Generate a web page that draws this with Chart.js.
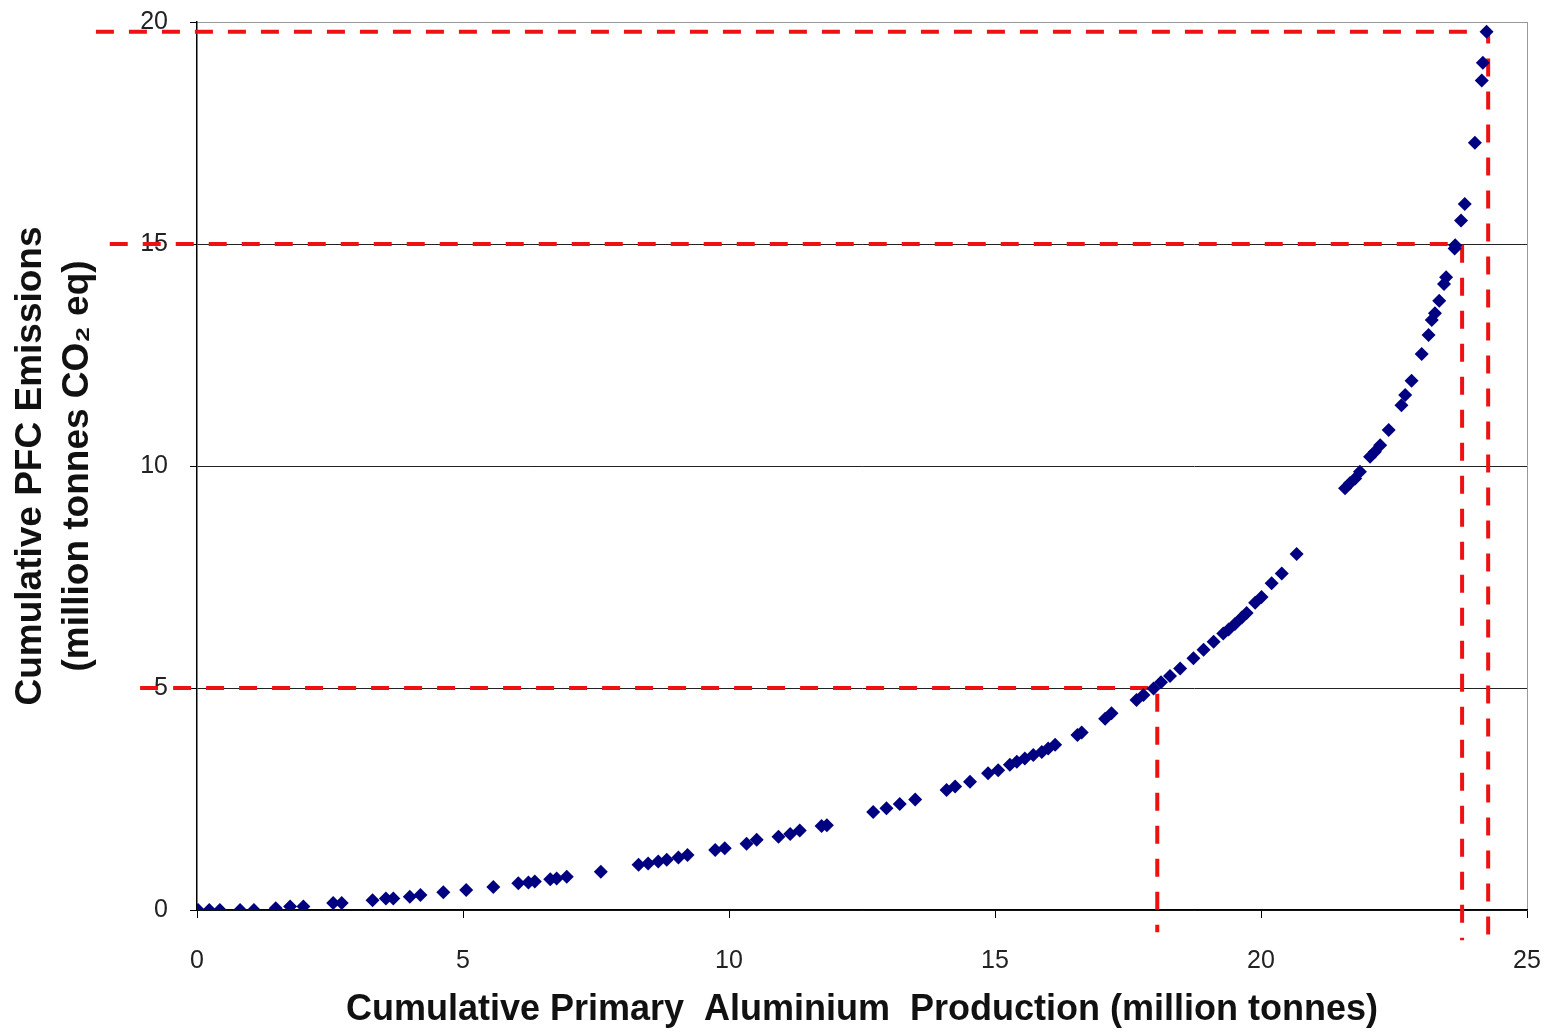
<!DOCTYPE html>
<html>
<head>
<meta charset="utf-8">
<script src="https://cdn.jsdelivr.net/npm/chart.js@4/dist/chart.umd.min.js"></script>
<style>
  html, body { margin: 0; padding: 0; background: #fff; }
  canvas { display: block; }
</style>
</head>
<body>
<canvas id="pfc_chart" width="1552" height="1032"></canvas>
<script>
// cumulative production (million tonnes) and cumulative PFC emissions (Mt CO2 eq)
var production = [0.02, 0.23, 0.43, 0.81, 1.07, 1.48, 1.75, 2.0, 2.56, 2.72,
    3.30, 3.55, 3.69, 4.00, 4.20, 4.63, 5.06, 5.57, 6.04, 6.23,
    6.35, 6.64, 6.76, 6.95, 7.59, 8.30, 8.48, 8.67, 8.83, 9.05,
    9.22, 9.74, 9.92, 10.33, 10.52, 10.93, 11.15, 11.33, 11.74, 11.84,
    12.71, 12.96, 13.21, 13.50, 14.09, 14.25, 14.53, 14.87, 15.06, 15.28,
    15.41, 15.56, 15.72, 15.88, 16.00, 16.13, 16.55, 16.63, 17.07, 17.19,
    17.66, 17.79, 17.98, 18.12, 18.29, 18.48, 18.73, 18.92, 19.11, 19.29,
    19.39, 19.51, 19.64, 19.73, 19.89, 20.01, 20.20, 20.39, 20.67, 21.58,
    21.67, 21.77, 21.86, 22.05, 22.14, 22.24, 22.40, 22.64, 22.71, 22.83,
    23.02, 23.15, 23.21, 23.27, 23.35, 23.44, 23.48, 23.64, 23.65, 23.76,
    23.83, 24.02, 24.15, 24.17, 24.24];
var emissions = [0, 0, 0, 0, 0, 0.04, 0.08, 0.08, 0.16, 0.16,
    0.22, 0.26, 0.26, 0.30, 0.34, 0.40, 0.45, 0.52, 0.60, 0.62,
    0.64, 0.69, 0.71, 0.75, 0.86, 1.02, 1.05, 1.09, 1.13, 1.18,
    1.24, 1.35, 1.39, 1.49, 1.58, 1.65, 1.71, 1.79, 1.89, 1.91,
    2.21, 2.29, 2.39, 2.49, 2.70, 2.78, 2.89, 3.08, 3.15, 3.27,
    3.34, 3.41, 3.49, 3.56, 3.64, 3.72, 3.94, 4.00, 4.31, 4.43,
    4.73, 4.84, 4.99, 5.13, 5.27, 5.44, 5.67, 5.86, 6.04, 6.23,
    6.32, 6.44, 6.59, 6.69, 6.92, 7.05, 7.36, 7.58, 8.02, 9.50,
    9.61, 9.72, 9.87, 10.21, 10.32, 10.47, 10.81, 11.37, 11.60, 11.92,
    12.52, 12.95, 13.29, 13.44, 13.72, 14.10, 14.25, 14.90, 14.97, 15.53,
    15.90, 17.28, 18.68, 19.08, 19.78];

// red dashed reference guides (horizontal from left of axis, then down past the x axis)
var guide5 = { xs: [-1.07, 18.05, 18.05], ys: [5, 5, -0.5] };
var guide15 = { xs: [-1.64, 23.78, 23.78], ys: [15, 15, -0.68] };
var guide20 = { xs: [-1.9, 24.27, 24.27], ys: [19.78, 19.78, -0.68] };

var xTicks = [0, 5, 10, 15, 20, 25];
var yTicks = [0, 5, 10, 15, 20];

function toPoints(xs, ys) {
    return xs.map(function (x, i) { return { x: x, y: ys[i] }; });
}

function guideSet(g) {
    return {
        type: 'line',
        data: toPoints(g.xs, g.ys),
        borderColor: '#ee1111',
        borderWidth: 4,
        borderDash: [18, 15],
        pointRadius: 0,
        fill: false,
        tension: 0,
        clip: false,
        order: 2
    };
}

var tickFont = { family: 'Liberation Sans, Arial, sans-serif', size: 25 };

new Chart(document.getElementById('pfc_chart').getContext('2d'), {
    type: 'scatter',
    data: {
        datasets: [{
            label: 'PFC',
            data: toPoints(production, emissions),
            pointStyle: 'rectRot',
            pointRadius: 7,
            pointHoverRadius: 7,
            backgroundColor: '#000080',
            borderColor: '#000080',
            borderWidth: 0,
            order: 1
        }, guideSet(guide5), guideSet(guide15), guideSet(guide20)]
    },
    options: {
        responsive: false,
        animation: false,
        events: [],
        layout: { padding: { top: 22, right: 25, left: 0, bottom: 0 } },
        plugins: { legend: { display: false }, tooltip: { enabled: false } },
        scales: {
            x: {
                type: 'linear',
                min: 0, max: 25,
                afterBuildTicks: function (s) { s.ticks = xTicks.map(function (v) { return { value: v }; }); },
                afterFit: function (s) {
                    s.height = 122;
                    s.paddingLeft = 0;
                    s.paddingRight = 0;
                },
                grid: {
                    color: function (c) { return c.tick && c.tick.value === 25 ? '#999' : 'rgba(0,0,0,0)'; },
                    tickColor: '#000',
                    tickLength: 8,
                    lineWidth: 1
                },
                border: { color: '#000', width: 1.5 },
                ticks: { color: '#222', font: tickFont, padding: 28, maxRotation: 0 },
                title: {
                    display: true,
                    text: 'Cumulative Primary  Aluminium  Production (million tonnes)',
                    color: '#111',
                    font: { family: 'Liberation Sans, Arial, sans-serif', size: 36, weight: 'bold' },
                    padding: { top: 0, bottom: 0 }
                }
            },
            y: {
                type: 'linear',
                min: 0, max: 20,
                afterBuildTicks: function (s) { s.ticks = yTicks.map(function (v) { return { value: v }; }); },
                afterFit: function (s) {
                    s.width = 197;
                    s.paddingTop = 0;
                    s.paddingBottom = 0;
                },
                grid: {
                    color: function (c) { return c.tick && c.tick.value === 20 ? '#999' : '#222'; },
                    tickColor: '#000',
                    tickLength: 7,
                    lineWidth: 1
                },
                border: { color: '#000', width: 1.5 },
                ticks: { color: '#222', font: tickFont, padding: 22 },
                title: {
                    display: true,
                    text: ['Cumulative PFC Emissions', '(million tonnes CO\u2082 eq)'],
                    color: '#111',
                    font: { family: 'Liberation Sans, Arial, sans-serif', size: 37, weight: 'bold', lineHeight: 1.25 },
                    padding: { top: 8, bottom: 0 }
                }
            }
        }
    }
});
</script>
</body>
</html>
